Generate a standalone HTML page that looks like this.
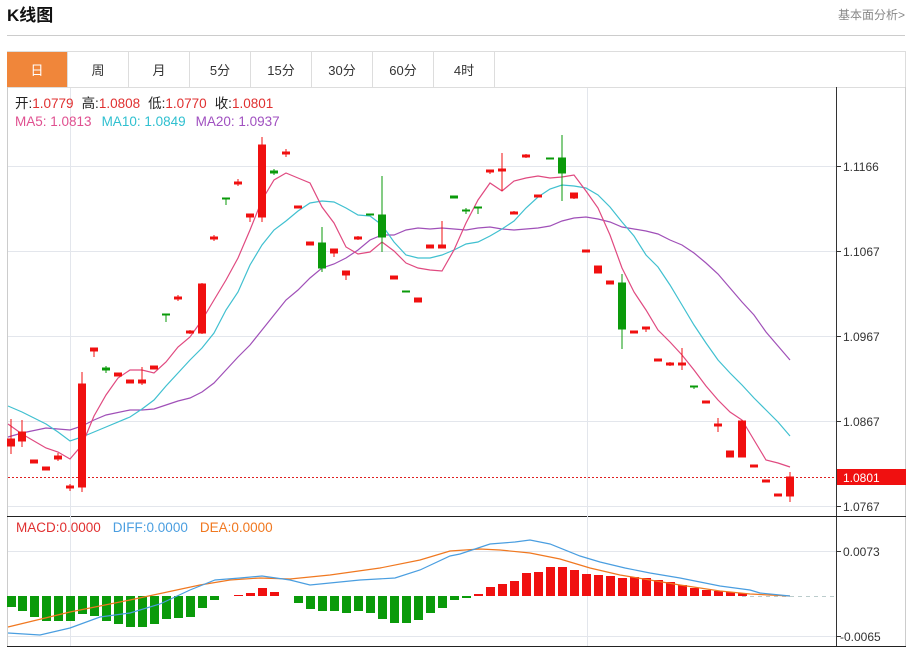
<!DOCTYPE html>
<html><head><meta charset="utf-8"><style>
body{margin:0;width:911px;height:649px;background:#fff;overflow:hidden;font-family:"Liberation Sans","Noto Sans CJK SC",sans-serif}
</style></head><body>
<svg width="911" height="649" xmlns="http://www.w3.org/2000/svg" font-family="Liberation Sans, Noto Sans CJK SC, sans-serif">
<text x="7" y="21" font-size="17" font-weight="bold" fill="#111">K线图</text>
<text x="838" y="19" font-size="12" fill="#888">基本面分析&gt;</text>
<line x1="7" y1="35.5" x2="905" y2="35.5" stroke="#ccc"/>
<rect x="7.5" y="51.5" width="898" height="36" fill="#fff" stroke="#ddd"/>
<rect x="7" y="52" width="60" height="35" fill="#f0863a"/>
<g stroke="#ddd"><line x1="67.5" y1="52" x2="67.5" y2="87"/><line x1="128.5" y1="52" x2="128.5" y2="87"/><line x1="189.5" y1="52" x2="189.5" y2="87"/><line x1="250.5" y1="52" x2="250.5" y2="87"/><line x1="311.5" y1="52" x2="311.5" y2="87"/><line x1="372.5" y1="52" x2="372.5" y2="87"/><line x1="433.5" y1="52" x2="433.5" y2="87"/><line x1="494.5" y1="52" x2="494.5" y2="87"/></g>
<g font-size="13" text-anchor="middle" fill="#333"><text x="37" y="75" fill="#fff">日</text><text x="98" y="75">周</text><text x="159" y="75">月</text><text x="220" y="75">5分</text><text x="281" y="75">15分</text><text x="342" y="75">30分</text><text x="403" y="75">60分</text><text x="464" y="75">4时</text></g>
<line x1="7.5" y1="87" x2="7.5" y2="646" stroke="#ccc"/>
<line x1="905.5" y1="87" x2="905.5" y2="646" stroke="#ccc"/>
<line x1="836.5" y1="87" x2="836.5" y2="646" stroke="#333"/>
<line x1="7" y1="516.5" x2="906" y2="516.5" stroke="#222"/>
<line x1="7" y1="646.5" x2="906" y2="646.5" stroke="#222"/>
<g stroke="#e3e6ec"><line x1="8" y1="166.5" x2="836" y2="166.5"/><line x1="8" y1="251.5" x2="836" y2="251.5"/><line x1="8" y1="336.5" x2="836" y2="336.5"/><line x1="8" y1="421.5" x2="836" y2="421.5"/><line x1="8" y1="506.5" x2="836" y2="506.5"/><line x1="8" y1="551.5" x2="836" y2="551.5"/><line x1="8" y1="636.5" x2="836" y2="636.5"/><line x1="70.5" y1="88" x2="70.5" y2="646"/><line x1="587.5" y1="88" x2="587.5" y2="646"/></g>
<g stroke="#333"><line x1="836" y1="166.5" x2="841" y2="166.5"/><line x1="836" y1="251.5" x2="841" y2="251.5"/><line x1="836" y1="336.5" x2="841" y2="336.5"/><line x1="836" y1="421.5" x2="841" y2="421.5"/><line x1="836" y1="506.5" x2="841" y2="506.5"/><line x1="836" y1="551.5" x2="841" y2="551.5"/><line x1="836" y1="636.5" x2="841" y2="636.5"/></g>
<g font-size="12" fill="#333"><text x="843" y="171">1.1166</text><text x="843" y="256">1.1067</text><text x="843" y="341">1.0967</text><text x="843" y="426">1.0867</text><text x="843" y="511">1.0767</text><text x="843" y="556">0.0073</text><text x="840" y="641">-0.0065</text></g>
<line x1="8" y1="477.5" x2="836" y2="477.5" stroke="#e02020" stroke-dasharray="2,2"/>
<rect x="837" y="469" width="69" height="16" fill="#f01010"/>
<text x="843" y="482" font-size="12" fill="#fff">1.0801</text>
<g font-size="13.5"><text x="15" y="108" fill="#222">开:<tspan fill="#e03030">1.0779</tspan><tspan dx="8">高:</tspan><tspan fill="#e03030">1.0808</tspan><tspan dx="8">低:</tspan><tspan fill="#e03030">1.0770</tspan><tspan dx="8">收:</tspan><tspan fill="#e03030">1.0801</tspan></text>
<text x="15" y="126" fill="#e05090">MA5: 1.0813<tspan fill="#30c0d0" dx="10">MA10: 1.0849</tspan><tspan fill="#a050c0" dx="10">MA20: 1.0937</tspan></text>
<text x="16" y="532" fill="#e03030">MACD:0.0000<tspan fill="#4a9ee0" dx="12">DIFF:0.0000</tspan><tspan fill="#f07820" dx="12">DEA:0.0000</tspan></text></g>
<polyline fill="none" stroke="#a050b8" stroke-width="1.2" points="8,437 22,433 46,428 58,429 70,430 82,426 94,420 106,415 130,410 142,410 154,409 166,405 178,401 190,398 202,392 214,383 226,370 238,357 250,345 262,330 274,315 286,300 298,290 310,278 322,268 334,264 346,258 358,250 370,240 382,235 394,235 406,230 418,228 430,229 442,228 454,229 466,230 478,228 490,227 502,229 514,230 526,229 538,228 550,226 562,221 574,218 586,217 598,219 610,222 622,227 634,229 646,231 658,234 670,240 682,245 694,253 706,263 718,274 730,288 742,302 754,315 766,332 778,346 790,360"/>
<polyline fill="none" stroke="#40c0d0" stroke-width="1.2" points="8,406 22,412 46,424 58,432 70,441 82,437 94,432 106,427 130,417 142,409 154,400 166,386 178,373 190,360 202,348 214,333 226,310 238,292 250,265 262,245 274,230 286,221 298,211 310,203 322,201 334,202 346,208 358,215 370,216 382,225 394,242 406,255 418,258 430,258 442,255 454,250 466,244 478,242 490,236 502,229 514,221 526,208 538,197 550,189 562,185 574,186 586,188 598,195 610,207 622,222 634,236 646,255 658,267 670,285 682,305 694,325 706,343 718,360 730,373 742,385 754,398 766,410 778,422 790,436"/>
<polyline fill="none" stroke="#e04a80" stroke-width="1.2" points="8,424 22,434 46,448 58,452 70,459 82,445 94,416 106,395 118,378 130,370 142,370 154,373 166,362 178,347 190,337 202,320 214,300 226,280 238,258 250,230 262,200 274,180 286,173 298,178 310,183 322,207 334,223 346,247 358,254 370,252 382,242 394,251 406,263 418,268 430,270 442,271 454,250 466,223 478,200 490,183 502,191 514,181 526,178 538,176 550,178 562,177 574,175 586,191 598,208 610,235 622,268 634,292 646,310 658,330 670,342 682,355 694,370 706,386 718,400 730,412 742,420 754,440 766,460 778,463 790,467"/>
<g fill="#f01010" stroke="#f01010">
<line x1="11" y1="419" x2="11" y2="454"/><rect x="7.5" y="439" width="7" height="7"/>
<line x1="22" y1="420" x2="22" y2="447"/><rect x="18.5" y="432" width="7" height="9"/>
<rect x="30.5" y="460" width="7" height="3"/>
<rect x="42.5" y="467" width="7" height="3"/>
<line x1="58" y1="453" x2="58" y2="461"/><rect x="54.5" y="456" width="7" height="3"/>
<line x1="70" y1="484" x2="70" y2="491"/><rect x="66.5" y="486" width="7" height="2"/>
<line x1="82" y1="372" x2="82" y2="492"/><rect x="78.5" y="384" width="7" height="103"/>
<line x1="94" y1="348" x2="94" y2="357"/><rect x="90.5" y="348" width="7" height="3"/>
<rect x="114.5" y="373" width="7" height="3"/>
<rect x="126.5" y="380" width="7" height="3"/>
<line x1="142" y1="367" x2="142" y2="385"/><rect x="138.5" y="380" width="7" height="3"/>
<rect x="150.5" y="366" width="7" height="3"/>
<line x1="178" y1="295" x2="178" y2="301"/><rect x="174.5" y="297" width="7" height="2"/>
<line x1="190" y1="330" x2="190" y2="334"/><rect x="186.5" y="331" width="7" height="2"/>
<line x1="202" y1="283" x2="202" y2="334"/><rect x="198.5" y="284" width="7" height="49"/>
<line x1="214" y1="235" x2="214" y2="241"/><rect x="210.5" y="237" width="7" height="2"/>
<line x1="238" y1="179" x2="238" y2="186"/><rect x="234.5" y="182" width="7" height="2"/>
<line x1="250" y1="214" x2="250" y2="222"/><rect x="246.5" y="214" width="7" height="3"/>
<line x1="262" y1="137" x2="262" y2="222"/><rect x="258.5" y="145" width="7" height="72"/>
<line x1="286" y1="149" x2="286" y2="157"/><rect x="282.5" y="152" width="7" height="2"/>
<rect x="294.5" y="206" width="7" height="2"/>
<rect x="306.5" y="242" width="7" height="3"/>
<line x1="334" y1="249" x2="334" y2="257"/><rect x="330.5" y="249" width="7" height="4"/>
<line x1="346" y1="271" x2="346" y2="280"/><rect x="342.5" y="271" width="7" height="4"/>
<line x1="358" y1="236" x2="358" y2="240"/><rect x="354.5" y="237" width="7" height="2"/>
<rect x="390.5" y="276" width="7" height="3"/>
<rect x="414.5" y="298" width="7" height="4"/>
<rect x="426.5" y="245" width="7" height="3"/>
<line x1="442" y1="221" x2="442" y2="248"/><rect x="438.5" y="245" width="7" height="3"/>
<line x1="490" y1="170" x2="490" y2="174"/><rect x="486.5" y="170" width="7" height="2"/>
<line x1="502" y1="153" x2="502" y2="191"/><rect x="498.5" y="169" width="7" height="2"/>
<line x1="514" y1="211" x2="514" y2="214"/><rect x="510.5" y="212" width="7" height="2"/>
<line x1="526" y1="154" x2="526" y2="158"/><rect x="522.5" y="155" width="7" height="2"/>
<rect x="534.5" y="195" width="7" height="2"/>
<line x1="574" y1="193" x2="574" y2="199"/><rect x="570.5" y="193" width="7" height="5"/>
<rect x="582.5" y="250" width="7" height="2"/>
<rect x="594.5" y="266" width="7" height="7"/>
<rect x="606.5" y="281" width="7" height="3"/>
<rect x="630.5" y="331" width="7" height="2"/>
<line x1="646" y1="327" x2="646" y2="332"/><rect x="642.5" y="327" width="7" height="2"/>
<rect x="654.5" y="359" width="7" height="2"/>
<line x1="670" y1="362" x2="670" y2="366"/><rect x="666.5" y="363" width="7" height="2"/>
<line x1="682" y1="348" x2="682" y2="370"/><rect x="678.5" y="363" width="7" height="2"/>
<rect x="702.5" y="401" width="7" height="2"/>
<line x1="718" y1="418" x2="718" y2="432"/><rect x="714.5" y="424" width="7" height="2"/>
<rect x="726.5" y="451" width="7" height="6"/>
<line x1="742" y1="420" x2="742" y2="457"/><rect x="738.5" y="421" width="7" height="36"/>
<rect x="750.5" y="465" width="7" height="2"/>
<rect x="762.5" y="480" width="7" height="2"/>
<rect x="774.5" y="494" width="7" height="2"/>
<line x1="790" y1="472" x2="790" y2="502"/><rect x="786.5" y="477" width="7" height="19"/>
</g>
<g fill="#0a9a0a" stroke="#0a9a0a">
<line x1="106" y1="366" x2="106" y2="373"/><rect x="102.5" y="368" width="7" height="2"/>
<line x1="166" y1="314" x2="166" y2="322"/><rect x="162.5" y="314" width="7" height="1"/>
<line x1="226" y1="198" x2="226" y2="205"/><rect x="222.5" y="198" width="7" height="1"/>
<line x1="274" y1="169" x2="274" y2="175"/><rect x="270.5" y="171" width="7" height="2"/>
<line x1="322" y1="227" x2="322" y2="272"/><rect x="318.5" y="243" width="7" height="25"/>
<rect x="366.5" y="214" width="7" height="1"/>
<line x1="382" y1="176" x2="382" y2="252"/><rect x="378.5" y="215" width="7" height="22"/>
<rect x="402.5" y="291" width="7" height="1"/>
<rect x="450.5" y="196" width="7" height="2"/>
<line x1="466" y1="208" x2="466" y2="214"/><rect x="462.5" y="210" width="7" height="1"/>
<line x1="478" y1="207" x2="478" y2="214"/><rect x="474.5" y="207" width="7" height="1"/>
<rect x="546.5" y="158" width="7" height="1"/>
<line x1="562" y1="135" x2="562" y2="201"/><rect x="558.5" y="158" width="7" height="15"/>
<line x1="622" y1="274" x2="622" y2="349"/><rect x="618.5" y="283" width="7" height="46"/>
<line x1="694" y1="386" x2="694" y2="389"/><rect x="690.5" y="386" width="7" height="1"/>
</g>
<line x1="742" y1="596.5" x2="836" y2="596.5" stroke="#bcc" stroke-dasharray="4,4"/>
<g fill="#0a9a0a">
<rect x="7" y="596" width="9" height="11"/><rect x="18" y="596" width="9" height="15"/><rect x="30" y="596" width="9" height="21"/><rect x="42" y="596" width="9" height="25"/><rect x="54" y="596" width="9" height="25"/><rect x="66" y="596" width="9" height="25"/><rect x="78" y="596" width="9" height="18"/><rect x="90" y="596" width="9" height="20"/><rect x="102" y="596" width="9" height="25"/><rect x="114" y="596" width="9" height="28"/><rect x="126" y="596" width="9" height="31"/><rect x="138" y="596" width="9" height="31"/><rect x="150" y="596" width="9" height="28"/><rect x="162" y="596" width="9" height="23"/><rect x="174" y="596" width="9" height="22"/><rect x="186" y="596" width="9" height="21"/><rect x="198" y="596" width="9" height="12"/><rect x="210" y="596" width="9" height="4"/>
<rect x="294" y="596" width="9" height="7"/><rect x="306" y="596" width="9" height="13"/><rect x="318" y="596" width="9" height="15"/><rect x="330" y="596" width="9" height="15"/><rect x="342" y="596" width="9" height="17"/><rect x="354" y="596" width="9" height="15"/><rect x="366" y="596" width="9" height="17"/><rect x="378" y="596" width="9" height="23"/><rect x="390" y="596" width="9" height="27"/><rect x="402" y="596" width="9" height="27"/><rect x="414" y="596" width="9" height="24"/><rect x="426" y="596" width="9" height="17"/><rect x="438" y="596" width="9" height="12"/><rect x="450" y="596" width="9" height="4"/><rect x="462" y="596" width="9" height="2"/>
</g>
<g fill="#f01010">
<rect x="234" y="595" width="9" height="1"/><rect x="246" y="593" width="9" height="3"/><rect x="258" y="588" width="9" height="8"/><rect x="270" y="592" width="9" height="4"/><rect x="474" y="594" width="9" height="2"/>
<rect x="486" y="587" width="9" height="9"/><rect x="498" y="584" width="9" height="12"/><rect x="510" y="581" width="9" height="15"/><rect x="522" y="573" width="9" height="23"/><rect x="534" y="572" width="9" height="24"/><rect x="546" y="567" width="9" height="29"/><rect x="558" y="567" width="9" height="29"/><rect x="570" y="570" width="9" height="26"/><rect x="582" y="574" width="9" height="22"/><rect x="594" y="575" width="9" height="21"/><rect x="606" y="576" width="9" height="20"/><rect x="618" y="578" width="9" height="18"/><rect x="630" y="577" width="9" height="19"/><rect x="642" y="578" width="9" height="18"/><rect x="654" y="580" width="9" height="16"/><rect x="666" y="582" width="9" height="14"/><rect x="678" y="585" width="9" height="11"/><rect x="690" y="588" width="9" height="8"/><rect x="702" y="590" width="9" height="6"/><rect x="714" y="591" width="9" height="5"/><rect x="726" y="592" width="9" height="4"/><rect x="738" y="593" width="9" height="3"/>
</g>
<polyline fill="none" stroke="#f07820" stroke-width="1.2" points="8,627 70,612 130,600 200,585 230,580 260,578 290,579 330,575 380,568 420,560 450,551 480,549 500,550 530,553 560,559 590,568 620,575 650,580 680,585 720,591 750,594 790,596"/>
<polyline fill="none" stroke="#4a9ee0" stroke-width="1.2" points="8,633 40,635 70,628 100,617 130,613 160,604 190,590 215,580 240,578 262,576 290,580 310,585 330,583 360,580 395,578 420,570 450,556 460,554 490,544 515,542 530,540 550,544 580,556 600,562 625,568 650,573 680,578 720,586 750,590 760,593 790,596"/>
</svg>
</body></html>
